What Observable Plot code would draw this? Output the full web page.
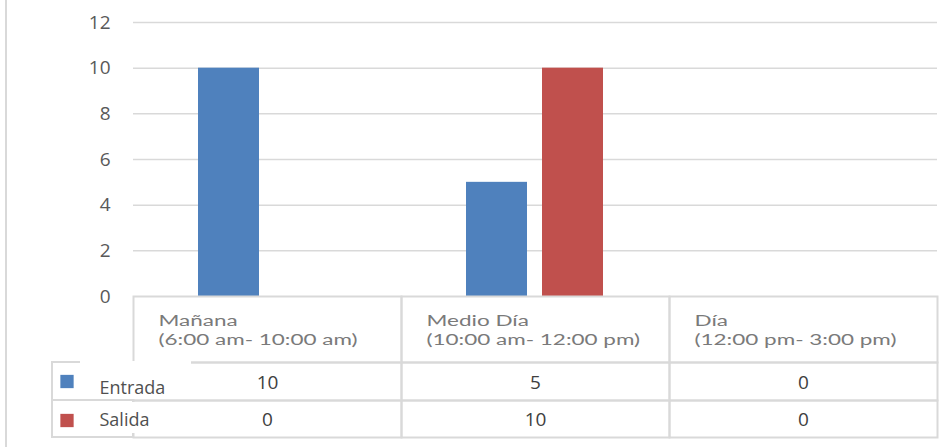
<!DOCTYPE html>
<html><head><meta charset="utf-8">
<script src="https://cdn.jsdelivr.net/npm/d3@7"></script>
<script src="https://cdn.jsdelivr.net/npm/@observablehq/plot@0.6"></script>
<style>
body{margin:0;background:#fff;}
#wrap{position:relative;width:952px;height:447px;overflow:hidden;}
#edge{position:absolute;left:5px;top:0;width:2px;height:447px;background:#d9d9d9;}
</style></head><body><div id="wrap"><div id="edge"></div></div>
<script>
const categories = ["Mañana", "Medio Día", "Día"];
const timeRanges = ["(6:00 am- 10:00 am)", "(10:00 am- 12:00 pm)", "(12:00 pm- 3:00 pm)"];
const series = ["Entrada", "Salida"];
const entrada = [10, 5, 0];
const salida = [0, 10, 0];
const yTicks = [0, 2, 4, 6, 8, 10, 12];
const colors = ["#4f81bd", "#c0504d"];

const rows = categories.flatMap((c, i) => [
  {category: c, series: "Entrada", value: entrada[i]},
  {category: c, series: "Salida", value: salida[i]}
]);
const headers = categories.map((c, i) => ({category: c, label: c + "\n" + timeRanges[i]}));
const first = () => categories[0];
const border = {stroke: "#d9d9d9", strokeWidth: 2, fill: "none"};

const chart = Plot.plot({
  width: 952, height: 447,
  marginTop: 22, marginBottom: 151, marginLeft: 133, marginRight: 15,
  style: {fontFamily: "'Open Sans', sans-serif", fontSize: "19px", color: "#595959", background: "transparent", overflow: "visible"},
  fx: {domain: categories, padding: 0, axis: null},
  x: {domain: series, paddingInner: 0.195, paddingOuter: 0.838, axis: null},
  y: {domain: [0, 12], ticks: yTicks, tickSize: 0, tickPadding: 23, label: null, line: false},
  color: {domain: series, range: colors},
  marks: [
    Plot.ruleY(yTicks.filter(d => d > 0), {stroke: "#d9d9d9", strokeWidth: 1.5}),
    Plot.barY(rows, {fx: "category", x: "series", y: "value", fill: "series"}),
    // table grid
    Plot.frame({...border, insetTop: 274, insetBottom: -66}),
    Plot.frame({...border, insetTop: 340, insetBottom: -104}),
    Plot.frame({...border, insetTop: 378, insetBottom: -141}),
    Plot.rect([0], {fx: first, ...border, insetLeft: -81, insetRight: 268, insetTop: 340, insetBottom: -104}),
    Plot.rect([0], {fx: first, ...border, insetLeft: -81, insetRight: 268, insetTop: 378, insetBottom: -141}),
    Plot.rect([0], {fx: first, fill: "white", insetLeft: -53, insetRight: 210, insetTop: 339, insetBottom: -103}),
    Plot.rect([0], {fx: first, fill: "white", insetLeft: -3, insetRight: 265, insetTop: 380, insetBottom: -137}),
    // header labels
    Plot.text(headers, {fx: "category", text: "label", frameAnchor: "bottom-left", textAnchor: "start", lineAnchor: "middle",
      dx: 25, dy: 33, lineHeight: 1.3, fill: "#7a7a7a", fontFamily: "Lato, sans-serif", fontSize: 15}),
    // values
    Plot.text(rows.filter(d => d.series === "Entrada"), {fx: "category", text: "value", frameAnchor: "bottom", lineAnchor: "middle", dy: 86, fill: "#404040"}),
    Plot.text(rows.filter(d => d.series === "Salida"), {fx: "category", text: "value", frameAnchor: "bottom", lineAnchor: "middle", dy: 123, fill: "#404040"}),
    // legend keys
    Plot.dot([series[0]], {fx: first, frameAnchor: "bottom-left", dx: -66.5, dy: 85, symbol: "square", r: 7.5, fill: d => d}),
    Plot.dot([series[1]], {fx: first, frameAnchor: "bottom-left", dx: -66.5, dy: 124, symbol: "square", r: 7.5, fill: d => d}),
    Plot.text([series[0]], {fx: first, text: d => d, frameAnchor: "bottom-left", textAnchor: "start", lineAnchor: "middle", dx: -34, dy: 91.5, fill: "#505050", fontSize: 18}),
    Plot.text([series[1]], {fx: first, text: d => d, frameAnchor: "bottom-left", textAnchor: "start", lineAnchor: "middle", dx: -34, dy: 123.5, fill: "#505050", fontSize: 18})
  ]
});
// the header labels in the reference are horizontally stretched
d3.select(chart).selectAll('[font-family*="Lato"] text').each(function() {
  const t = this.getAttribute("transform");
  if (t) this.setAttribute("transform", t + " scale(1.5,1)");
});
document.getElementById("wrap").appendChild(chart);
</script>
</body></html>
